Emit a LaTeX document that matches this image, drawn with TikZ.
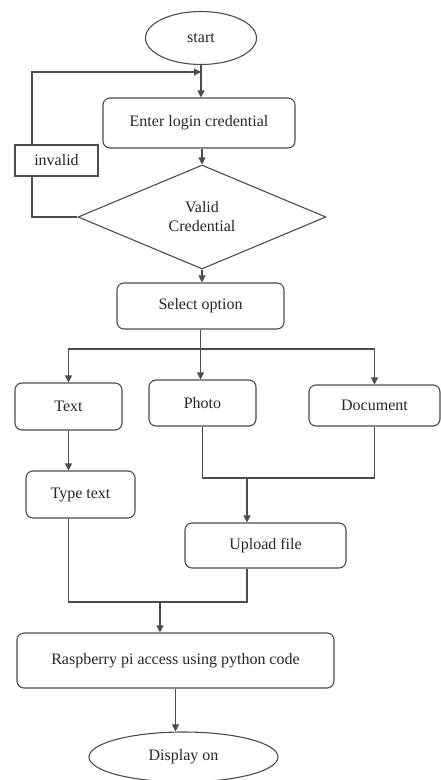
\documentclass[tikz,border=0pt]{standalone}
\usepackage{fontspec}
\setmainfont{Liberation Serif}
\usetikzlibrary{shapes.geometric,arrows.meta}
\begin{document}
\begin{tikzpicture}[x=1pt,y=-1pt,
  line width=1.1pt,
  every node/.style={font=\fontsize{16}{19}\selectfont, text=black!85},
  box/.style={draw=black!70, line width=1.1pt, rounded corners=7pt, inner sep=0pt},
  sqbox/.style={draw=black!70, line width=1.1pt, inner sep=0pt},
  oval/.style={draw=black!70, line width=1.1pt, ellipse, inner sep=0pt},
  dia/.style={draw=black!70, line width=1.1pt, diamond, inner sep=0pt, align=center},
  ln/.style={draw=black!70},
  arr/.style={draw=black!70, -{Triangle[length=7pt,width=7pt]}}]
\useasboundingbox (0,0) rectangle (441,780);
\node[oval, minimum width=111pt, minimum height=53pt] (start) at (201,38) {start};
\node[box, minimum width=192pt, minimum height=50pt] (enter) at (199,123) {Enter login credential};
\node[dia, minimum width=248pt, minimum height=104pt] (diamond) at (202,217) {Valid\\Credential};
\node[sqbox, minimum width=83pt, minimum height=31pt] (invalid) at (56.5,160.5) {invalid};
\node[box, minimum width=167pt, minimum height=46pt] (select) at (200.5,306) {Select option};
\node[box, minimum width=107pt, minimum height=47pt] (text) at (68.5,406.5) {Text};
\node[box, minimum width=107pt, minimum height=46pt] (photo) at (202.5,403) {Photo};
\node[box, minimum width=131pt, minimum height=41pt] (document) at (374.5,405.5) {Document};
\node[box, minimum width=109pt, minimum height=47pt] (typetext) at (80.5,494.5) {Type text};
\node[box, minimum width=161pt, minimum height=45pt] (upload) at (265.5,545.5) {Upload file};
\node[box, minimum width=317pt, minimum height=55pt] (rasp) at (175.5,660.5) {Raspberry pi access using python code};
\node[oval, minimum width=189pt, minimum height=50pt] (display) at (183.5,757) {Display on};
\coordinate (lx) at (32,72);
\coordinate (j1) at (201,72);
\coordinate (bus) at (200.5,349);
\coordinate (m2) at (247,478);
\coordinate (m3) at (160,602);
% start to enter
\draw[arr] (start.south) -- (start.south |- enter.north);
% loop
\draw[ln] (diamond.west) -- (diamond.west -| lx) -- (lx |- invalid.south);
\draw[arr] (lx |- invalid.north) -- (lx) -- (j1);
\draw[arr] (enter.south -| diamond.north) -- (diamond.north);
\draw[arr] (diamond.south) -- (diamond.south |- select.north);
% branching
\draw[ln] (select.south) -- (bus);
\draw[arr] (bus) -| (text.north);
\draw[arr] (bus) -- (bus |- photo.north);
\draw[arr] (bus) -| (document.north);
\draw[arr] (text.south) -- (text.south |- typetext.north);
% merge photo/document
\draw[ln] (photo.south) |- (m2) -| (document.south);
\draw[arr] (m2) -- (m2 |- upload.north);
% merge type text / upload
\draw[ln] (text.south |- typetext.south) |- (m3) -| (m2 |- upload.south);
\draw[arr] (m3) -- (m3 |- rasp.north);
\draw[arr] (rasp.south) -- (rasp.south |- display.north);
\end{tikzpicture}
\end{document}
